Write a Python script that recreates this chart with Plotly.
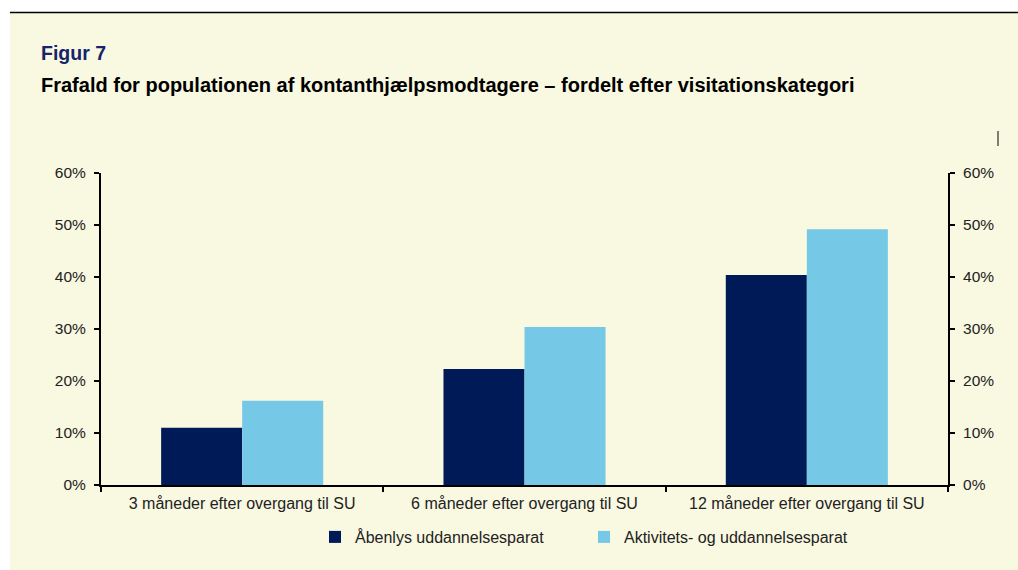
import plotly.graph_objects as go

kategorier = ["3 måneder efter overgang til SU",
              "6 måneder efter overgang til SU",
              "12 måneder efter overgang til SU"]
aabenlys = [0.110, 0.223, 0.404]
aktivitet = [0.162, 0.304, 0.492]

W, H = 1018, 570
L, R, T, B = 101, 1018 - 948, 173, 570 - 485
pw, ph = W - L - R, H - T - B

def px_x(p):  # page pixel -> paper
    return (p - L) / pw

def px_y(p):
    return (H - B - p) / ph

bg = "#F9F8E1"
font = "Liberation Sans, Arial, sans-serif"

fig = go.Figure()
fig.add_trace(go.Bar(x=kategorier, y=aabenlys, name="Åbenlys uddannelsesparat",
                     marker=dict(color="#001A57", line=dict(width=0))))
fig.add_trace(go.Bar(x=kategorier, y=aktivitet, name="Aktivitets- og uddannelsesparat",
                     marker=dict(color="#75C9E6", line=dict(width=0))))
# right hand axis copy
fig.add_trace(go.Scatter(x=kategorier, y=[None] * 3, yaxis="y2", showlegend=False,
                         hoverinfo="skip"))

axis_common = dict(range=[0, 0.6], dtick=0.1, tickformat=".0%", showgrid=False,
                   zeroline=False, showline=True, linecolor="black", linewidth=2,
                   ticks="outside", ticklen=5, tickwidth=1.5, tickcolor="black",
                   ticklabelstandoff=5,
                   tickfont=dict(size=15.5, color="#222", family=font))

fig.update_layout(
    width=W, height=H,
    margin=dict(l=L, r=R, t=T, b=B),
    paper_bgcolor=bg, plot_bgcolor=bg,
    barmode="group", bargap=0.426, bargroupgap=0,
    font=dict(family=font, size=16, color="#222"),
    xaxis=dict(showgrid=False, showline=True, linecolor="black", linewidth=2,
               ticks="outside", tickson="boundaries", ticklen=5, tickwidth=1.5,
               tickcolor="black", ticklabelstandoff=3,
               tickfont=dict(size=16, color="#222")),
    yaxis=dict(side="left", **axis_common),
    yaxis2=dict(side="right", overlaying="y", **axis_common),
    legend=dict(orientation="h", x=px_x(315), xanchor="left", y=px_y(537), yanchor="middle",
                bgcolor="rgba(0,0,0,0)", font=dict(size=16), itemwidth=30,
                entrywidth=224, tracegroupgap=0),
    showlegend=True,
    annotations=[
        dict(text="<b>Figur 7</b>", x=px_x(39), y=px_y(53), xref="paper", yref="paper",
             xanchor="left", yanchor="middle", showarrow=False,
             font=dict(size=19.5, color="#17246B", family=font)),
        dict(text="<b>Frafald for populationen af kontanthjælpsmodtagere – fordelt efter visitationskategori</b>",
             x=px_x(39), y=px_y(85), xref="paper", yref="paper",
             xanchor="left", yanchor="middle", showarrow=False,
             font=dict(size=20, color="black", family=font)),
    ],
    shapes=[
        dict(type="rect", xref="paper", yref="paper", x0=px_x(-2), x1=px_x(10),
             y0=px_y(-2), y1=px_y(575), fillcolor="white", line=dict(width=0), layer="above"),
        dict(type="rect", xref="paper", yref="paper", x0=px_x(-2), x1=px_x(1025),
             y0=px_y(-2), y1=px_y(12), fillcolor="white", line=dict(width=0), layer="above"),
        dict(type="line", xref="paper", yref="paper", x0=px_x(10), x1=px_x(1018),
             y0=px_y(12.5), y1=px_y(12.5), line=dict(color="black", width=1.5), layer="above"),
        dict(type="line", xref="paper", yref="paper", x0=px_x(998), x1=px_x(998),
             y0=px_y(131), y1=px_y(146), line=dict(color="black", width=1), layer="above"),
    ],
)

fig.write_html("out.html", config={"displayModeBar": False},
               post_script="document.body.style.margin='0';document.body.style.overflow='hidden';")
